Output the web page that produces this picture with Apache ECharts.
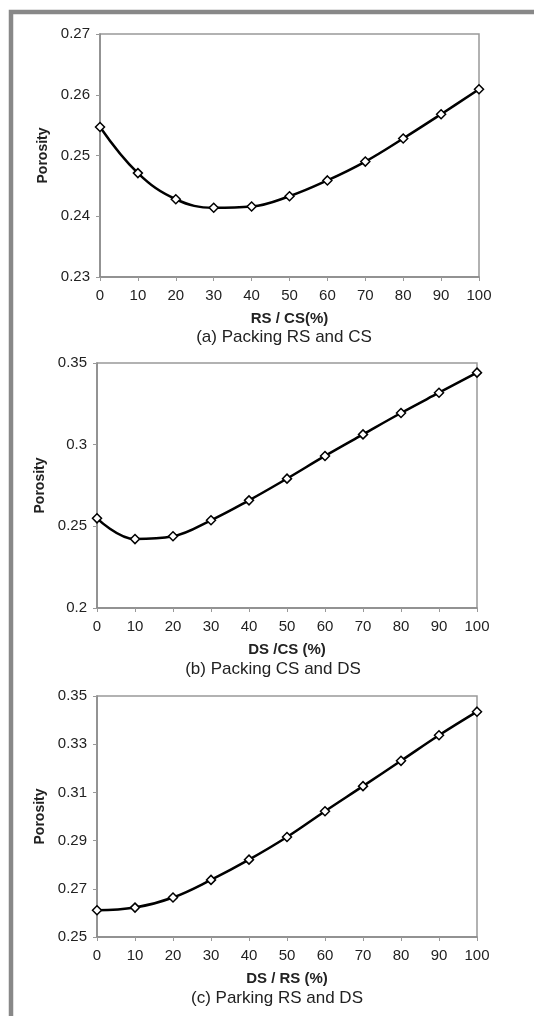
<!DOCTYPE html>
<html>
<head>
<meta charset="utf-8">
<script src="https://cdn.jsdelivr.net/npm/echarts@6/dist/echarts.min.js"></script>
<style>
html,body{margin:0;padding:0;background:#fff;}
#chart{width:534px;height:1016px;}
</style>
</head>
<body>
<div id="chart"></div>
<script>
// ---- data ----
var xValues = [0, 10, 20, 30, 40, 50, 60, 70, 80, 90, 100];
var porosityA = [0.2547, 0.2471, 0.2428, 0.2414, 0.2416, 0.2433, 0.2459, 0.2490, 0.2528, 0.2568, 0.2609];
var porosityB = [0.2549, 0.2422, 0.2439, 0.2537, 0.2659, 0.2792, 0.2931, 0.3063, 0.3194, 0.3318, 0.3441];
var porosityC = [0.2611, 0.2622, 0.2664, 0.2737, 0.2821, 0.2915, 0.3022, 0.3126, 0.3231, 0.3337, 0.3435];
var xTicks = [0, 10, 20, 30, 40, 50, 60, 70, 80, 90, 100];
var yTicksA = [0.23, 0.24, 0.25, 0.26, 0.27];
var yTicksB = [0.2, 0.25, 0.3, 0.35];
var yTicksC = [0.25, 0.27, 0.29, 0.31, 0.33, 0.35];
var xNames = ['RS / CS(%)', 'DS /CS (%)', 'DS / RS (%)'];
var yName = 'Porosity';
var captions = ['(a) Packing RS and CS', '(b) Packing CS and DS', '(c) Parking RS and DS'];

// ---- layout ----
var FONT = '"Liberation Sans", Arial, sans-serif';
var grids = [
  {left: 100, top: 34, width: 379, height: 243},
  {left: 97, top: 363, width: 380, height: 245},
  {left: 97, top: 696, width: 380, height: 241}
];
var yRanges = [[0.23, 0.27], [0.2, 0.35], [0.25, 0.35]];
var yTicks = [yTicksA, yTicksB, yTicksC];
var series = [porosityA, porosityB, porosityC];
var yNameGaps = [47, 48, 50];
var captionPos = [[284, 337], [273, 669], [277, 998]];

function pairs(xs, ys) { return xs.map(function (x, i) { return [x, ys[i]]; }); }

var option = {
  backgroundColor: '#fff',
  animation: false,
  grid: grids.map(function (g) {
    return {left: g.left, top: g.top, width: g.width, height: g.height,
      show: true, borderColor: '#999', borderWidth: 1.5, backgroundColor: 'transparent',
      containLabel: false, outerBoundsMode: 'none'};
  }),
  xAxis: grids.map(function (g, i) {
    return {
      type: 'value', gridIndex: i, min: 0, max: 100,
      name: xNames[i], nameLocation: 'middle', nameGap: 34,
      nameTextStyle: {fontFamily: FONT, fontSize: 15, fontWeight: 'bold', color: '#222'},
      axisLine: {show: true, lineStyle: {color: '#888', width: 1.5}},
      axisTick: {show: true, length: 4, inside: false, customValues: xTicks, lineStyle: {color: '#999'}},
      axisLabel: {show: true, margin: 11, customValues: xTicks, fontFamily: FONT, fontSize: 15, color: '#222'},
      splitLine: {show: false}
    };
  }),
  yAxis: grids.map(function (g, i) {
    return {
      type: 'value', gridIndex: i, min: yRanges[i][0], max: yRanges[i][1],
      name: yName, nameLocation: 'middle', nameGap: yNameGaps[i], nameRotate: 90,
      nameTextStyle: {fontFamily: FONT, fontSize: 14, fontWeight: 'bold', color: '#222'},
      axisLine: {show: true, lineStyle: {color: '#888', width: 1.5}},
      axisTick: {show: true, length: 4, inside: false, customValues: yTicks[i], lineStyle: {color: '#999'}},
      axisLabel: {show: true, margin: 10, customValues: yTicks[i], fontFamily: FONT, fontSize: 15, color: '#222',
        formatter: function (v) { return String(Math.round(v * 1000) / 1000); }},
      splitLine: {show: false}
    };
  }),
  series: series.map(function (d, i) {
    return {
      type: 'line', xAxisIndex: i, yAxisIndex: i,
      data: pairs(xValues, d), smooth: 0.4,
      lineStyle: {color: '#000', width: 2.5},
      symbol: 'diamond', symbolSize: 9, showSymbol: true,
      itemStyle: {color: '#fff', borderColor: '#000', borderWidth: 1.5},
      z: 3
    };
  }),
  graphic: [
    {type: 'rect', shape: {x: 11, y: 12, width: 700, height: 1200},
      style: {fill: 'none', stroke: '#888', lineWidth: 4.5}, z: 100}
  ].concat(captions.map(function (c, i) {
    return {type: 'text', x: captionPos[i][0], y: captionPos[i][1],
      style: {text: c, fontFamily: FONT, fontSize: 17, fill: '#222', align: 'center', verticalAlign: 'middle'}};
  }))
};

var chart = echarts.init(document.getElementById('chart'), null, {renderer: 'canvas'});
chart.setOption(option);
</script>
</body>
</html>
